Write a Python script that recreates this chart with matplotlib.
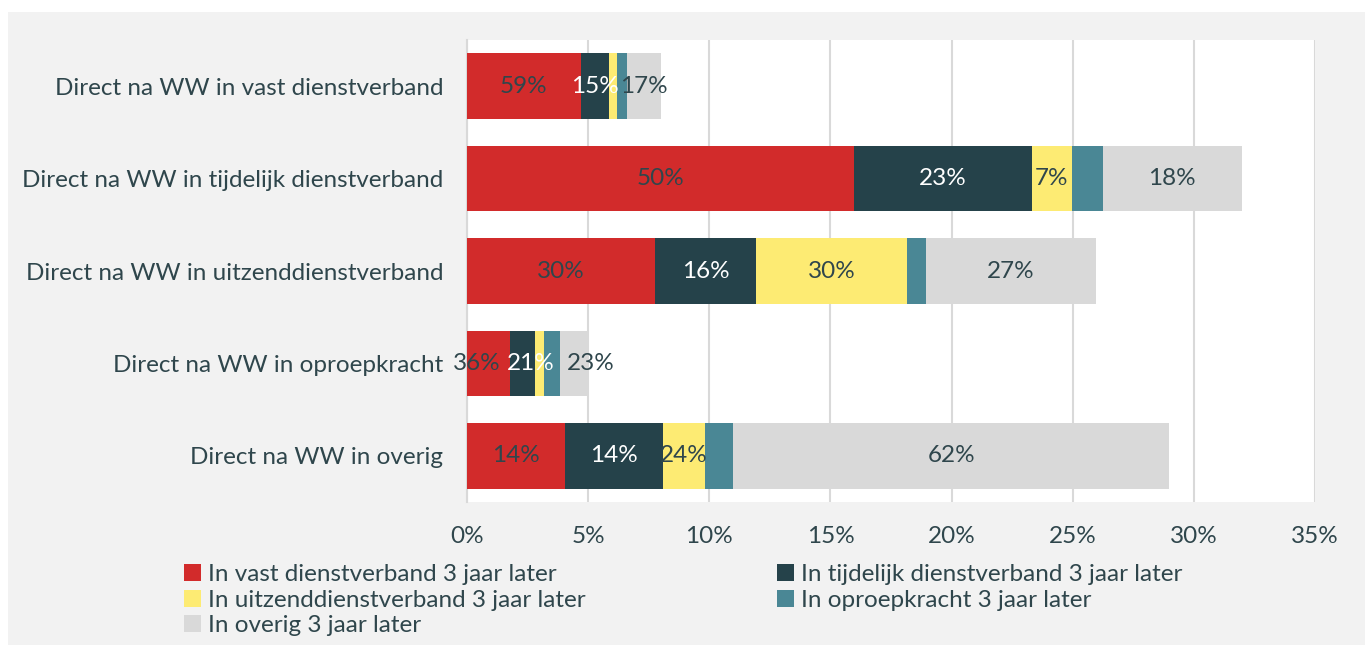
import matplotlib
matplotlib.use("Agg")
import matplotlib.pyplot as plt
from matplotlib.patches import Rectangle, Patch
import numpy as np

plt.rcParams['font.family'] = ['Lato', 'DejaVu Sans']

categories = ["Direct na WW in vast dienstverband",
              "Direct na WW in tijdelijk dienstverband",
              "Direct na WW in uitzenddienstverband",
              "Direct na WW in oproepkracht",
              "Direct na WW in overig"]

series_names = ["In vast dienstverband 3 jaar later",
                "In tijdelijk dienstverband 3 jaar later",
                "In uitzenddienstverband 3 jaar later",
                "In oproepkracht 3 jaar later",
                "In overig 3 jaar later"]

vast = [4.69, 15.98, 7.77, 1.76, 4.03]
tijdelijk = [1.18, 7.35, 4.16, 1.06, 4.06]
uitzend = [0.33, 1.62, 6.24, 0.34, 1.75]
oproep = [0.41, 1.28, 0.77, 0.69, 1.15]
overig = [1.38, 5.76, 7.02, 1.17, 17.99]

vast_lbl = ["59%", "50%", "30%", "36%", "14%"]
tijdelijk_lbl = ["15%", "23%", "16%", "21%", "14%"]
uitzend_lbl = ["", "7%", "30%", "", "24%"]
oproep_lbl = ["", "", "", "", ""]
overig_lbl = ["17%", "18%", "27%", "23%", "62%"]

xticks = [0, 5, 10, 15, 20, 25, 30, 35]
xtick_labels = ["0%", "5%", "10%", "15%", "20%", "25%", "30%", "35%"]

colors = ["#D22B2B", "#25424A", "#FDEB73", "#4A8795", "#D9D9D9"]
label_colors = ["#2F464C", "white", "#2F464C", "#2F464C", "#2F464C"]
text_color = "#2F464C"
FS = 17.5

# horizontal nudges (pixels) for crowded labels: (series index, row index) -> px
nudges = {(0, 3): -12, (1, 3): 8, (4, 3): 16}

values = [vast, tijdelijk, uitzend, oproep, overig]
labels = [vast_lbl, tijdelijk_lbl, uitzend_lbl, oproep_lbl, overig_lbl]

fig = plt.figure(figsize=(13.70, 6.49), dpi=100)
fig.patch.set_facecolor("white")
bg = Rectangle((8/1370, 4/649), (1365-8)/1370, 633/649,
               transform=fig.transFigure, facecolor="#F2F2F2",
               edgecolor="none", zorder=-10)
fig.patches.append(bg)

ax = fig.add_axes([467/1370, 1 - 502/649, (1315-467)/1370, (502-40)/649])
ax.set_zorder(1)
ax.set_facecolor("white")

y = np.arange(len(categories))
left = np.zeros(len(categories))
for si, (vals, lbls, col, lc) in enumerate(zip(values, labels, colors, label_colors)):
    vals = np.array(vals)
    ax.barh(y, vals, left=left, height=0.71, color=col, zorder=3)
    for yi, (l, v, t) in enumerate(zip(left, vals, lbls)):
        if t:
            dx = nudges.get((si, yi), 0) * 0.72
            ax.annotate(t, (l + v / 2, yi), xytext=(dx, 0),
                        textcoords="offset points", ha="center", va="center",
                        color=lc, fontsize=FS, zorder=4)
    left = left + vals

ax.set_ylim(len(categories) - 0.5, -0.5)
ax.set_xlim(0, 35)
ax.set_yticks(y)
ax.set_yticklabels(categories, fontsize=FS, color=text_color)
ax.set_xticks(xticks)
ax.set_xticklabels(xtick_labels, fontsize=FS, color=text_color)
ax.tick_params(axis="both", length=0)
ax.tick_params(axis="y", pad=17)
ax.tick_params(axis="x", pad=17)
ax.grid(axis="x", color="#D9D9D9", linewidth=1.5, zorder=1)
for s in ["top", "right", "bottom"]:
    ax.spines[s].set_visible(False)
ax.spines["left"].set_color("#D9D9D9")
ax.spines["left"].set_linewidth(1.5)

handles = [Patch(facecolor=c, edgecolor="none") for c in colors]
order = [0, 2, 4, 1, 3]
leg = fig.legend([handles[i] for i in order], [series_names[i] for i in order],
                 loc="upper left", bbox_to_anchor=(184/1370, 1 - 564/649),
                 ncol=2, frameon=False, fontsize=FS, handlelength=0.7,
                 handleheight=0.7, handletextpad=0.3, labelspacing=0.19,
                 columnspacing=7.85, borderaxespad=0, borderpad=0)
for t in leg.get_texts():
    t.set_color(text_color)

fig.savefig("out.png", dpi=100, facecolor=fig.get_facecolor())
